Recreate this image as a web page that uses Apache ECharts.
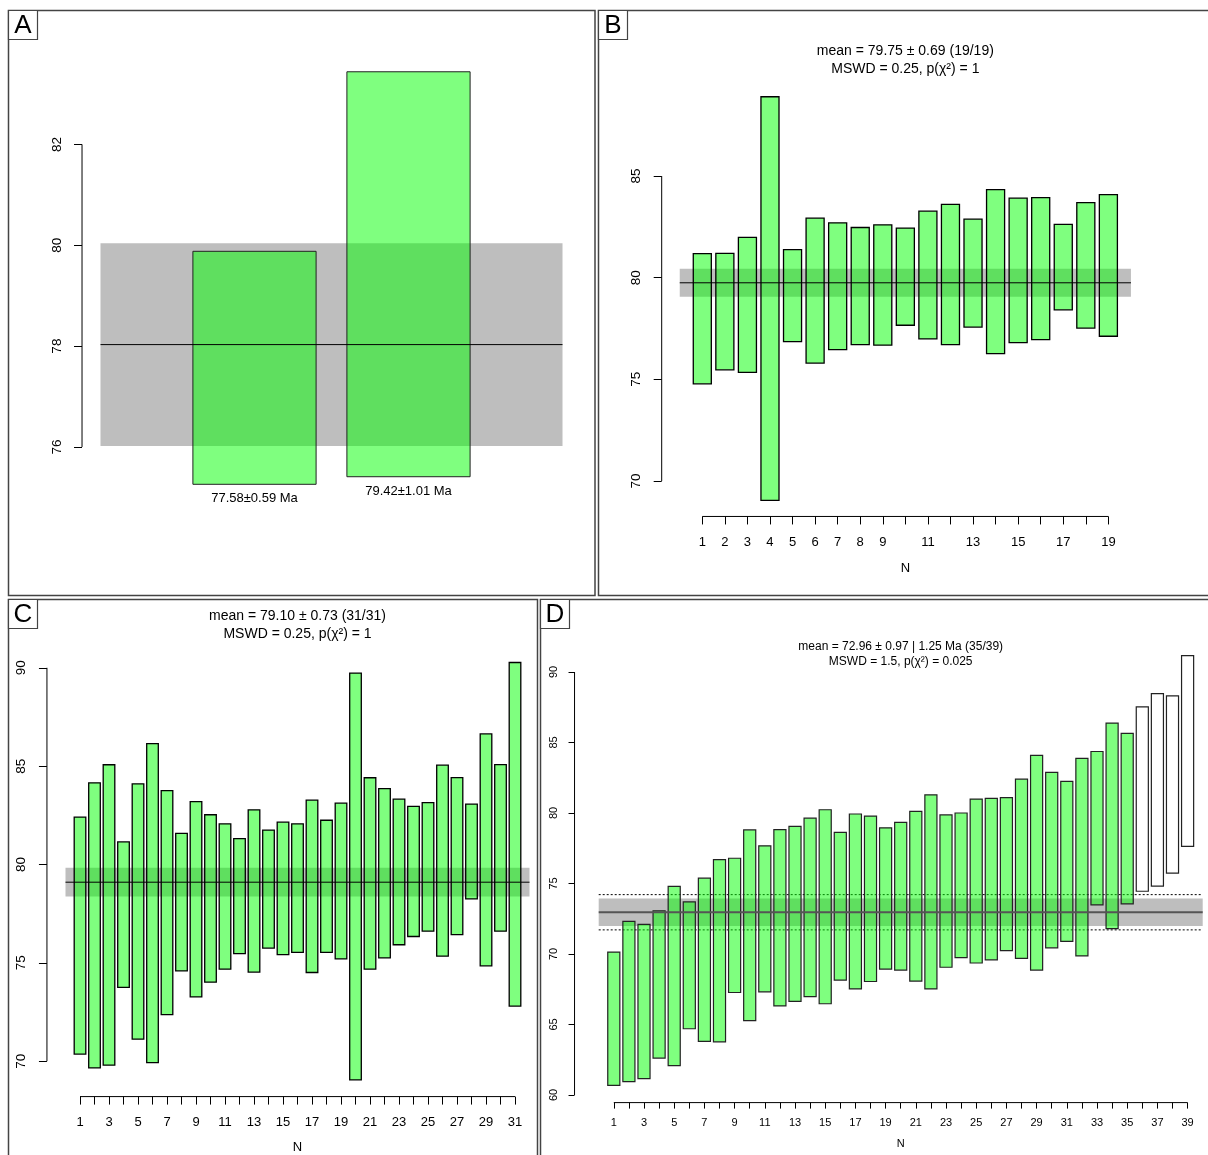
<!DOCTYPE html>
<html><head><meta charset="utf-8">
<script src="https://cdn.jsdelivr.net/npm/echarts@6/dist/echarts.min.js"></script>
<style>html,body{margin:0;padding:0;background:#fff}#c{width:1208px;height:1155px}</style>
</head><body><div id="c"></div>
<script>
// ---------------- DATA ----------------
// Panel A
const aLo = [75.26, 75.41];
const aHi = [79.88, 83.44];
const aAccepted = [1, 1];
const aLabels = ['77.58±0.59 Ma', '79.42±1.01 Ma'];
const aMean = 78.03, aErr = 2.01;
const aYTicks = [76, 78, 80, 82];

// Panel B
const bLo = [74.78, 75.47, 75.34, 69.05, 76.86, 75.80, 76.46, 76.71, 76.68, 77.66, 76.99, 76.71, 77.57, 76.27, 76.81, 76.95, 78.42, 77.52, 77.12];
const bHi = [81.18, 81.20, 81.98, 88.90, 81.38, 82.93, 82.70, 82.47, 82.60, 82.44, 83.27, 83.61, 82.88, 84.33, 83.91, 83.94, 82.62, 83.69, 84.09];
const bAccepted = [1,1,1,1,1,1,1,1,1,1,1,1,1,1,1,1,1,1,1];
const bMean = 79.75, bErr = 0.69;
const bTitle = ['mean = 79.75 ± 0.69 (19/19)', 'MSWD = 0.25, p(χ²) = 1'];
const bYTicks = [70, 75, 80, 85];
const bXTicks = [1,2,3,4,5,6,7,8,9,10,11,12,13,14,15,16,17,18,19];
const bXLabels = [1,2,3,4,5,6,7,8,9,11,13,15,17,19];

// Panel C
const cLo = [70.36, 69.66, 69.80, 73.75, 71.12, 69.93, 72.37, 74.59, 73.27, 74.02, 74.68, 75.47, 74.53, 75.75, 75.42, 75.53, 74.51, 75.53, 75.20, 69.05, 74.68, 75.25, 75.92, 76.34, 76.61, 75.34, 76.44, 78.25, 74.85, 76.61, 72.80];
const cHi = [82.41, 84.15, 85.07, 81.15, 84.10, 86.15, 83.76, 81.58, 83.20, 82.53, 82.07, 81.32, 82.78, 81.75, 82.15, 82.07, 83.27, 82.25, 83.12, 89.73, 84.41, 83.86, 83.32, 82.95, 83.15, 85.05, 84.42, 83.07, 86.64, 85.08, 90.27];
const cAccepted = [1,1,1,1,1,1,1,1,1,1,1,1,1,1,1,1,1,1,1,1,1,1,1,1,1,1,1,1,1,1,1];
const cMean = 79.10, cErr = 0.73;
const cTitle = ['mean = 79.10 ± 0.73 (31/31)', 'MSWD = 0.25, p(χ²) = 1'];
const cYTicks = [70, 75, 80, 85, 90];
const cXTicks = [1,2,3,4,5,6,7,8,9,10,11,12,13,14,15,16,17,18,19,20,21,22,23,24,25,26,27,28,29,30,31];
const cXLabels = [1,3,5,7,9,11,13,15,17,19,21,23,25,27,29,31];

// Panel D
const dLo = [60.68, 60.95, 61.16, 62.62, 62.09, 64.70, 63.80, 63.77, 67.27, 65.28, 67.32, 66.32, 66.64, 66.97, 66.47, 68.15, 67.52, 68.05, 68.93, 68.86, 68.08, 67.52, 69.06, 69.74, 69.36, 69.59, 70.24, 69.69, 68.86, 70.44, 70.90, 69.86, 73.49, 71.80, 73.56, 74.45, 74.82, 75.73, 77.64];
const dHi = [70.14, 72.31, 72.10, 73.06, 74.80, 73.69, 75.38, 76.69, 76.79, 78.80, 77.67, 78.82, 79.05, 79.63, 80.23, 78.62, 79.93, 79.78, 78.95, 79.33, 80.11, 81.29, 79.86, 80.00, 80.99, 81.04, 81.09, 82.40, 84.09, 82.88, 82.25, 83.88, 84.36, 86.38, 85.65, 87.53, 88.46, 88.31, 91.16];
const dAccepted = [1,1,1,1,1,1,1,1,1,1,1,1,1,1,1,1,1,1,1,1,1,1,1,1,1,1,1,1,1,1,1,1,1,1,1,0,0,0,0];
const dMean = 72.96, dErr = 0.97, dDisp = 1.25;
const dTitle = ['mean = 72.96 ± 0.97 | 1.25 Ma (35/39)', 'MSWD = 1.5, p(χ²) = 0.025'];
const dYTicks = [60, 65, 70, 75, 80, 85, 90];
const dXTicks = [1,2,3,4,5,6,7,8,9,10,11,12,13,14,15,16,17,18,19,20,21,22,23,24,25,26,27,28,29,30,31,32,33,34,35,36,37,38,39];
const dXLabels = [1,3,5,7,9,11,13,15,17,19,21,23,25,27,29,31,33,35,37,39];

// ---------------- BUILD ----------------
const FONT = '"Liberation Sans", Arial, Helvetica, sans-serif';
const grids = [], xAxes = [], yAxes = [], series = [], graphics = [];

function usr(lo, hi) { const r = hi - lo; return [lo - 0.04 * r, hi + 0.04 * r]; }

function addPanel(cfg) {
  const gi = grids.length;
  const n = cfg.lo.length;
  const xr = usr(0, n + 1);
  const yr = usr(Math.min(...cfg.lo), Math.max(...cfg.hi));
  const left = cfg.xPx - (cfg.xVal - xr[0]) * cfg.xPpu;
  const width = (xr[1] - xr[0]) * cfg.xPpu;
  const top = cfg.yPx - (yr[1] - cfg.yVal) * cfg.yPpu;
  const height = (yr[1] - yr[0]) * cfg.yPpu;
  grids.push({ left, top, width, height, containLabel: false, outerBoundsMode: 'none' });

  const hasX = !!cfg.xTicks;
  xAxes.push({
    gridIndex: gi, type: 'value', min: xr[0], max: xr[1],
    axisLine: { show: false, onZero: false }, splitLine: { show: false },
    axisTick: { show: hasX, customValues: cfg.xTicks || [], length: cfg.tickLen, lineStyle: { color: '#000', width: 1 } },
    axisLabel: { show: hasX, customValues: cfg.xLabels || [], margin: cfg.xMargin, fontSize: cfg.fs, color: '#000', fontFamily: FONT },
    name: hasX ? 'N' : '', nameLocation: 'middle', nameGap: cfg.nameGap,
    nameTextStyle: { fontSize: cfg.fs, color: '#000', fontFamily: FONT }
  });
  yAxes.push({
    gridIndex: gi, type: 'value', min: yr[0], max: yr[1],
    axisLine: { show: false, onZero: false }, splitLine: { show: false },
    axisTick: { show: true, customValues: cfg.yTicks, length: cfg.tickLen, lineStyle: { color: '#000', width: 1 } },
    axisLabel: { show: true, customValues: cfg.yTicks, rotate: 90, margin: cfg.yMargin, fontSize: cfg.yfs || cfg.fs, color: '#000', fontFamily: FONT }
  });

  // grey band (+ dotted dispersion lines)
  series.push({
    type: 'custom', xAxisIndex: gi, yAxisIndex: gi, silent: true, clip: false,
    data: [[cfg.mean, cfg.err]],
    renderItem: function (p, api) {
      const m = api.value(0), e = api.value(1);
      const p1 = api.coord([0, m + e]), p2 = api.coord([n + 1, m - e]);
      const ch = [{ type: 'rect', shape: { x: p1[0], y: p1[1], width: p2[0] - p1[0], height: p2[1] - p1[1] }, style: { fill: '#BEBEBE' } }];
      if (cfg.disp) {
        [m + cfg.disp, m - cfg.disp].forEach(function (v) {
          const a = api.coord([0, v]), b = api.coord([n + 1, v]);
          ch.push({ type: 'line', shape: { x1: a[0], y1: a[1], x2: b[0], y2: b[1] }, style: { stroke: '#000', lineWidth: 1, lineDash: [2, 2] } });
        });
      }
      return { type: 'group', children: ch };
    }
  });

  // bars
  const rows = cfg.lo.map(function (v, i) { return [i + 1, v, cfg.hi[i], cfg.acc[i], i]; });
  series.push({
    type: 'custom', xAxisIndex: gi, yAxisIndex: gi, silent: true, clip: false,
    encode: { x: 0, y: [1, 2] },
    data: rows,
    renderItem: function (p, api) {
      const x = api.value(0), lo = api.value(1), hi = api.value(2), acc = api.value(3), idx = api.value(4);
      const p1 = api.coord([x - 0.4, hi]), p2 = api.coord([x + 0.4, lo]);
      const ch = [{
        type: 'rect', shape: { x: p1[0], y: p1[1], width: p2[0] - p1[0], height: p2[1] - p1[1] },
        style: { fill: acc ? 'rgba(0,255,0,0.5)' : '#ffffff', stroke: cfg.barStroke, lineWidth: cfg.barLw }
      }];
      if (cfg.labels) {
        ch.push({
          type: 'text', x: (p1[0] + p2[0]) / 2, y: p2[1] + 8,
          style: { text: cfg.labels[idx], fill: '#000', font: '13px ' + FONT, align: 'center', verticalAlign: 'top', textAlign: 'center', textVerticalAlign: 'top' }
        });
      }
      return { type: 'group', children: ch };
    }
  });

  // mean line
  series.push({
    type: 'custom', xAxisIndex: gi, yAxisIndex: gi, silent: true, clip: false,
    data: [[cfg.mean]],
    renderItem: function (p, api) {
      const a = api.coord([0, api.value(0)]), b = api.coord([n + 1, api.value(0)]);
      return { type: 'line', shape: { x1: a[0], y1: a[1], x2: b[0], y2: b[1] }, style: { stroke: cfg.meanColor, lineWidth: cfg.meanLw } };
    }
  });

  // R-style axis lines spanning first..last tick
  series.push({
    type: 'custom', xAxisIndex: gi, yAxisIndex: gi, silent: true, clip: false,
    data: [[0, 0]],
    renderItem: function (p, api) {
      const ch = [];
      const ya = api.coord([xr[0], cfg.yTicks[0]]), yb = api.coord([xr[0], cfg.yTicks[cfg.yTicks.length - 1]]);
      ch.push({ type: 'line', shape: { x1: ya[0], y1: ya[1], x2: yb[0], y2: yb[1] }, style: { stroke: '#000', lineWidth: 1 } });
      if (hasX) {
        const xa = api.coord([cfg.xTicks[0], yr[0]]), xb = api.coord([cfg.xTicks[cfg.xTicks.length - 1], yr[0]]);
        ch.push({ type: 'line', shape: { x1: xa[0], y1: xa[1], x2: xb[0], y2: xb[1] }, style: { stroke: '#000', lineWidth: 1 } });
      }
      return { type: 'group', children: ch };
    }
  });

  // titles
  if (cfg.title) {
    const cx = left + width / 2;
    cfg.title.forEach(function (t, k) {
      graphics.push({
        type: 'text', x: cx, y: cfg.titleY[k], z: 10,
        style: { text: t, fill: '#000', font: cfg.titleFs + 'px ' + FONT, align: 'center', verticalAlign: 'middle', textAlign: 'center', textVerticalAlign: 'middle' }
      });
    });
  }
}

addPanel({ lo: aLo, hi: aHi, acc: aAccepted, mean: aMean, err: aErr, labels: aLabels,
  yTicks: aYTicks, xPx: 254.5, xVal: 1, xPpu: 154, yPx: 144.4, yVal: 82, yPpu: 50.43,
  fs: 13, yfs: 13.5, tickLen: 8, yMargin: 18, barStroke: '#222', barLw: 1, meanColor: '#000', meanLw: 1 });

addPanel({ lo: bLo, hi: bHi, acc: bAccepted, mean: bMean, err: bErr, title: bTitle, titleY: [51, 69], titleFs: 14,
  yTicks: bYTicks, xTicks: bXTicks, xLabels: bXLabels,
  xPx: 702.3, xVal: 1, xPpu: 22.56, yPx: 481, yVal: 70, yPpu: 20.33,
  fs: 13, yfs: 13.5, tickLen: 8, yMargin: 18, xMargin: 19, nameGap: 45, barStroke: '#000', barLw: 1.3, meanColor: '#000', meanLw: 1 });

addPanel({ lo: cLo, hi: cHi, acc: cAccepted, mean: cMean, err: cErr, title: cTitle, titleY: [616, 634], titleFs: 14,
  yTicks: cYTicks, xTicks: cXTicks, xLabels: cXLabels,
  xPx: 80, xVal: 1, xPpu: 14.5, yPx: 1061.2, yVal: 70, yPpu: 19.67,
  fs: 13, yfs: 13.5, tickLen: 8, yMargin: 19, xMargin: 19, nameGap: 44, barStroke: '#000', barLw: 1.3, meanColor: '#000', meanLw: 1 });

addPanel({ lo: dLo, hi: dHi, acc: dAccepted, mean: dMean, err: dErr, disp: dDisp, title: dTitle, titleY: [647, 662], titleFs: 12,
  yTicks: dYTicks, xTicks: dXTicks, xLabels: dXLabels,
  xPx: 613.8, xVal: 1, xPpu: 15.1, yPx: 1095, yVal: 60, yPpu: 14.1,
  fs: 11, tickLen: 6, yMargin: 15, xMargin: 15, nameGap: 36, barStroke: '#222', barLw: 1.2, meanColor: '#555', meanLw: 2 });

// panel frames and letter boxes
const frames = [
  { x: 8.5, y: 10.5, w: 586.5, h: 585, letter: 'A' },
  { x: 598.5, y: 10.5, w: 640, h: 585, letter: 'B' },
  { x: 8.5, y: 599.5, w: 529, h: 600, letter: 'C' },
  { x: 540.5, y: 599.5, w: 700, h: 600, letter: 'D' }
];
frames.forEach(function (f) {
  graphics.push({ type: 'rect', z: 20, shape: { x: f.x, y: f.y, width: f.w, height: f.h }, style: { fill: 'none', stroke: '#444', lineWidth: 1.5 } });
  graphics.push({ type: 'rect', z: 20, shape: { x: f.x, y: f.y, width: 29, height: 29 }, style: { fill: '#fff', stroke: '#444', lineWidth: 1.2 } });
  graphics.push({ type: 'text', z: 21, x: f.x + 14.5, y: f.y + 15.5, style: { text: f.letter, fill: '#000', font: '26px ' + FONT, align: 'center', verticalAlign: 'middle', textAlign: 'center', textVerticalAlign: 'middle' } });
});

const chart = echarts.init(document.getElementById('c'), null, { renderer: 'canvas' });
chart.setOption({
  backgroundColor: '#fff',
  animation: false,
  grid: grids, xAxis: xAxes, yAxis: yAxes, series: series, graphic: graphics
});
</script></body></html>
